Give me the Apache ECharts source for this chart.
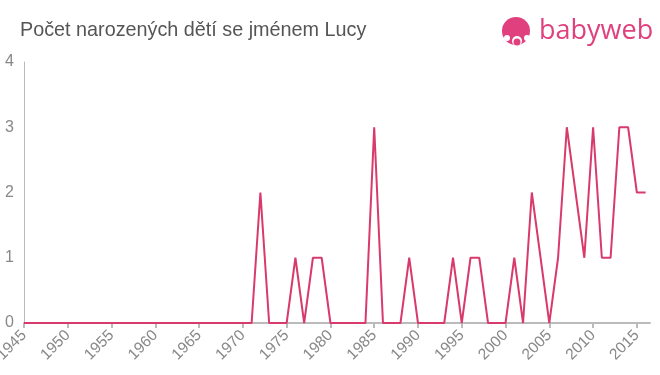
<!DOCTYPE html>
<html><head><meta charset="utf-8">
<script src="https://cdn.jsdelivr.net/npm/echarts@6/dist/echarts.min.js"></script>
<style>html,body{margin:0;padding:0;background:#fff}#c{width:660px;height:375px}</style>
</head><body><div id="c"></div>
<script>
const years = [];
for (let y = 1945; y <= 2016; y++) years.push(y);
const counts = [
  0,0,0,0,0,0,0,0,0,0, // 1945-1954
  0,0,0,0,0,0,0,0,0,0, // 1955-1964
  0,0,0,0,0,0,          // 1965-1970
  0,2,0,0,0,1,0,1,1,0, // 1971-1980
  0,0,0,0,3,0,0,0,1,0, // 1981-1990
  0,0,0,1,0,1,1,0,0,0, // 1991-2000
  1,0,2,1,0,1,3,2,1,3, // 2001-2010
  1,1,3,3,2,2          // 2011-2016
];
const title = 'Počet narozených dětí se jménem Lucy';
const chart = echarts.init(document.getElementById('c'));
chart.setOption({
  animation: false,
  title: {text: title, left: 15, top: 16, textStyle: {fontFamily: 'Liberation Sans, Arial', fontSize: 19.8, fontWeight: 'normal', color: '#555'}},
  grid: {left: 24, right: 10, top: 62, bottom: 52, containLabel: false, outerBoundsMode: 'none'},
  xAxis: {
    type: 'value', min: 1945, max: 2016.5, interval: 5,
    axisLine: {lineStyle: {color: '#bbb', width: 2}},
    axisTick: {show: true, length: 5, lineStyle: {color: '#bbb', width: 2}},
    splitLine: {show: false},
    axisLabel: {rotate: 45, color: '#888', fontSize: 15.5, fontFamily: 'Liberation Sans, Arial', margin: 10, showMaxLabel: false, formatter: v => String(v)}
  },
  yAxis: {
    type: 'value', min: 0, max: 4, interval: 1,
    axisLine: {show: true, lineStyle: {color: '#bbb', width: 1}},
    axisTick: {show: false},
    splitLine: {show: false},
    axisLabel: {color: '#888', fontSize: 16, fontFamily: 'Liberation Sans, Arial', margin: 10}
  },
  series: [{
    type: 'line', data: years.map((y, i) => [y, counts[i]]),
    showSymbol: false, symbol: 'none',
    lineStyle: {color: '#d93a6c', width: 2}
  }],
  graphic: [
    {type: 'circle', shape: {cx: 516, cy: 31, r: 14}, style: {fill: '#e0407e'}},
    {type: 'circle', shape: {cx: 517, cy: 41, r: 5}, style: {fill: '#fff'}},
    {type: 'circle', shape: {cx: 507, cy: 38, r: 3}, style: {fill: '#fff'}},
    {type: 'circle', shape: {cx: 527, cy: 38, r: 3}, style: {fill: '#fff'}},
    {type: 'circle', shape: {cx: 517, cy: 42, r: 3.5}, style: {fill: '#e0407e'}},
    {type: 'text', left: 539, top: 18, style: {text: 'babyweb', fill: '#e0407e', font: '500 27px "Open Sans", Arial'}}
  ]
});
</script></body></html>
